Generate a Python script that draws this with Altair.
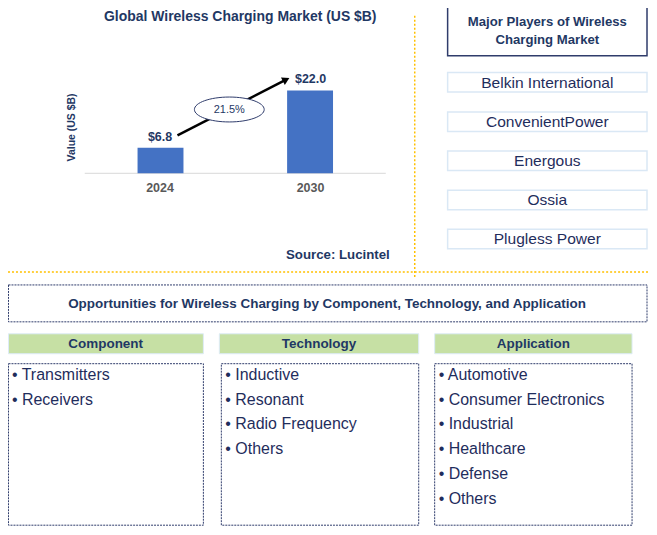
import altair as alt
import pandas as pd

# ---------------- data ----------------
years = ["2024", "2030"]
market_values = [6.8, 22.0]
value_labels = ["$6.8", "$22.0"]
cagr_label = "21.5%"
chart_title = "Global Wireless Charging Market (US $B)"
y_title = "Value (US $B)"
source_text = "Source: Lucintel"
players_title = ["Major Players of Wireless", "Charging Market"]
players = ["Belkin International", "ConvenientPower", "Energous", "Ossia", "Plugless Power"]
opp_title = "Opportunities for Wireless Charging by Component, Technology, and Application"
segment_names = ["Component", "Technology", "Application"]
component_items = ["Transmitters", "Receivers"]
technology_items = ["Inductive", "Resonant", "Radio Frequency", "Others"]
application_items = ["Automotive", "Consumer Electronics", "Industrial", "Healthcare", "Defense", "Others"]
segment_items = [component_items, technology_items, application_items]

# ---------------- layout (pixels, page coords minus 8px margin) ----------------
OFF = 8
W, H = 643, 521
def p(v):
    return v - OFF

NAVY = "#1F3864"
TEXT = "#1F2D5C"
FONT = "Liberation Sans"
one = pd.DataFrame({"k": [0]})

def X(f):
    return alt.X(f, type="quantitative", scale=None, axis=None)
def Y(f):
    return alt.Y(f, type="quantitative", scale=None, axis=None)
def X2(f):
    return alt.X2(f)
def Y2(f):
    return alt.Y2(f)

def rect_layer(rows, **mk):
    df = pd.DataFrame(rows, columns=["x", "x2", "y", "y2"])
    return alt.Chart(df).mark_rect(**mk).encode(x=X("x"), x2=X2("x2"), y=Y("y"), y2=Y2("y2"))

def text_layer(rows, **mk):
    df = pd.DataFrame(rows, columns=["x", "y", "t"])
    return alt.Chart(df).mark_text(font=FONT, baseline="middle", **mk).encode(
        x=X("x"), y=Y("y"), text="t:N")

layers = []

# orange dotted separators
layers.append(alt.Chart(one).mark_rule(color="#FFC000", strokeDash=[2, 2], strokeWidth=1.5).encode(
    x=alt.value(p(416)), y=alt.value(p(15)), y2=alt.value(p(277))))
layers.append(alt.Chart(one).mark_rule(color="#FFC000", strokeDash=[2, 2], strokeWidth=1.5).encode(
    x=alt.value(0), x2=alt.value(p(650)), y=alt.value(p(272))))

# ---------- bar chart ----------
bar_df = pd.DataFrame({"year": years, "value": market_values, "label": value_labels})
xs = alt.Scale(domain=years, range=[p(85), p(387)], paddingInner=0.693, paddingOuter=0.353)
ys = alt.Scale(domain=[0, 30], range=[p(173), p(173) - 30 * 3.78], nice=False, zero=True)

layers.append(alt.Chart(one).mark_rule(color="#D9D9D9", strokeWidth=1).encode(
    x=alt.value(p(85)), x2=alt.value(p(387)), y=alt.value(p(173))))
layers.append(alt.Chart(bar_df).mark_bar(color="#4472C4").encode(
    x=alt.X("year:N", scale=xs, axis=None),
    y=alt.Y("value:Q", scale=ys, axis=None)))
layers.append(alt.Chart(bar_df).mark_text(font=FONT, fontSize=12.5, fontWeight="bold", color=NAVY,
                                          baseline="middle", dy=-11).encode(
    x=alt.X("year:N", scale=xs, axis=None),
    y=alt.Y("value:Q", scale=ys, axis=None), text="label:N"))
layers.append(alt.Chart(bar_df).mark_text(font=FONT, fontSize=12.5, fontWeight="bold", color="#595959",
                                          baseline="middle").encode(
    x=alt.X("year:N", scale=xs, axis=None), y=alt.value(p(188)), text="year:N"))

# arrow with CAGR ellipse
layers.append(alt.Chart(one).mark_rule(color="black", strokeWidth=2.5).encode(
    x=alt.value(p(178)), y=alt.value(p(135)), x2=alt.value(p(285)), y2=alt.value(p(80))))
layers.append(alt.Chart(one).mark_point(shape="triangle-up", filled=True, color="black", opacity=1,
                                        size=70, angle=63).encode(
    x=alt.value(p(287)), y=alt.value(p(79))))
ellipse = ("M -1 0 C -1 -0.197 -0.552 -0.357 0 -0.357 C 0.552 -0.357 1 -0.197 1 0 "
           "C 1 0.197 0.552 0.357 0 0.357 C -0.552 0.357 -1 0.197 -1 0 Z")
layers.append(alt.Chart(one).mark_point(shape=ellipse, filled=True, fill="white", stroke="#2F3C6B",
                                        strokeWidth=1, opacity=1, size=70 * 70).encode(
    x=alt.value(p(230)), y=alt.value(p(109))))
layers.append(alt.Chart(pd.DataFrame({"t": [cagr_label]})).mark_text(
    font=FONT, fontSize=11, color=NAVY, baseline="middle").encode(
    x=alt.value(p(230)), y=alt.value(p(110)), text="t:N"))

layers.append(text_layer([(p(241), p(16), chart_title)], fontSize=14, fontWeight="bold", color=NAVY))
layers.append(text_layer([(p(72), p(127), y_title)], fontSize=10.5, fontWeight="bold", color=NAVY, angle=270))
layers.append(text_layer([(p(391), p(255), source_text)], fontSize=13.3, fontWeight="bold", color=NAVY, align="right"))

# ---------- major players ----------
layers.append(rect_layer([(p(449), p(649), p(5), p(55))], fill="white", stroke="#2F3C6B", strokeWidth=1.5))
layers.append(text_layer([(p(549), p(21), players_title[0]), (p(549), p(39), players_title[1])],
                         fontSize=13.2, fontWeight="bold", color=NAVY))
pl_tops = [72, 111.5, 150.75, 190, 229.25]
layers.append(rect_layer([(p(449), p(649), p(t), p(t + 19.5)) for t in pl_tops],
                         fill="white", stroke="#DAE8F5", strokeWidth=1.5))
layers.append(text_layer([(p(549), p(t + 10), name) for t, name in zip(pl_tops, players)],
                         fontSize=15.6, color=TEXT))

# ---------- opportunities ----------
layers.append(rect_layer([(0.5, p(649), p(285), p(322))], fillOpacity=0, stroke="#2F3C6B",
                         strokeDash=[2, 1], strokeWidth=1))
layers.append(text_layer([(p(328), p(304), opp_title)], fontSize=13.5, fontWeight="bold", color=NAVY))

col_x = [(8, 204), (220, 420), (436, 634)]
layers.append(rect_layer([(max(p(a), 0.5), p(b), p(334), p(354)) for a, b in col_x],
                         fill="#C6E0A4", stroke="#DDEBF7", strokeWidth=1))
layers.append(text_layer([(p((a + b) / 2), p(344), n) for (a, b), n in zip(col_x, segment_names)],
                         fontSize=13.5, fontWeight="bold", color=NAVY))
list_x = [(8, 204), (222, 420), (436, 634)]
layers.append(rect_layer([(max(p(a), 0.5), p(b), p(364), p(527) - 1) for a, b in list_x],
                         fillOpacity=0, stroke="#2F3C6B", strokeDash=[2, 1], strokeWidth=1))
item_rows = []
for (a, b), items in zip(list_x, segment_items):
    for i, it in enumerate(items):
        item_rows.append((p(a + 4), p(375 + 25 * i), "\u2022 " + it))
layers.append(text_layer(item_rows, fontSize=16, color=TEXT, align="left"))

chart = alt.layer(*layers).resolve_scale(x="independent", y="independent").properties(
    width=W, height=H, padding=0, autosize=alt.AutoSizeParams(type="none"),
).configure_view(stroke=None)

chart.save("out.html", embed_options={"renderer": "svg", "actions": False})
